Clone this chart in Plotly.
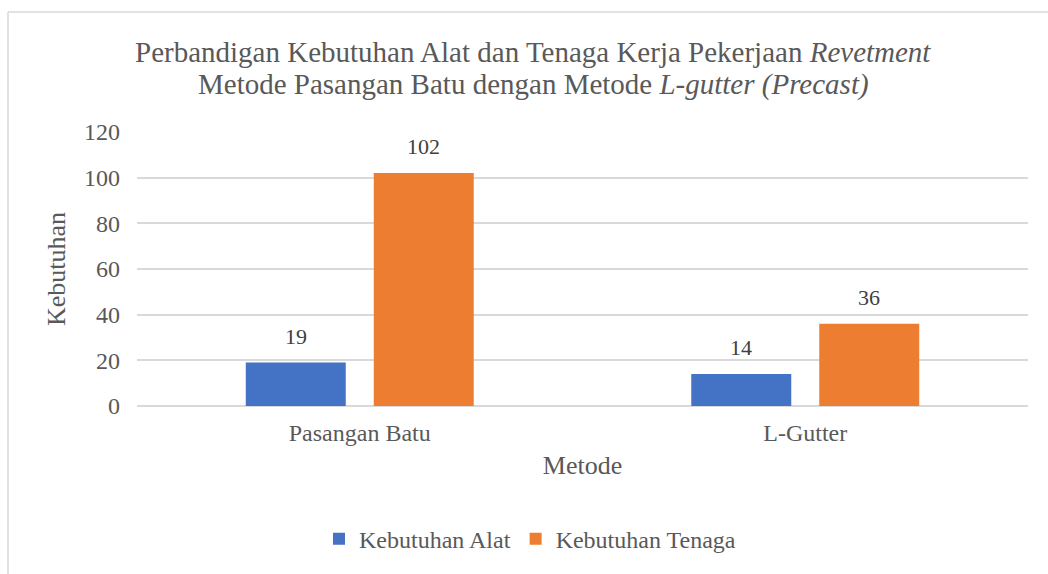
import plotly.graph_objects as go

# Categories and series
metode = ["Pasangan Batu", "L-Gutter"]
kebutuhan_alat = [19, 14]
kebutuhan_tenaga = [102, 36]
y_ticks = [0, 20, 40, 60, 80, 100, 120]

BLUE = "#4472C4"
ORANGE = "#ED7D31"
GRID = "#D9D9D9"
TXT = "#595959"
FONT = "Liberation Serif"

W, H = 1048, 574
L, R, T, B = 137, 20, 132, 166
pw, ph = W - L - R, H - T - B


def px_x(x):
    return (x - L) / pw


def px_y(y):
    return (H - B - y) / ph


fig = go.Figure()
fig.add_trace(go.Bar(name="Kebutuhan Alat", x=metode, y=kebutuhan_alat,
                     marker=dict(color=BLUE, line=dict(width=0))))
fig.add_trace(go.Bar(name="Kebutuhan Tenaga", x=metode, y=kebutuhan_tenaga,
                     marker=dict(color=ORANGE, line=dict(width=0))))

# value labels above each bar
annotations = []
for vals, shift in ((kebutuhan_alat, -64), (kebutuhan_tenaga, 64)):
    for cat, v in zip(metode, vals):
        annotations.append(dict(x=cat, y=v, xref="x", yref="y", text=str(v),
                                showarrow=False, xshift=shift, yshift=12,
                                yanchor="bottom",
                                font=dict(family=FONT, size=22, color="#404040")))

# two-line chart title (tight line spacing)
title_lines = [
    "Perbandigan Kebutuhan Alat dan Tenaga Kerja Pekerjaan <i>Revetment</i>",
    "Metode Pasangan Batu dengan Metode <i>L-gutter (Precast)</i>",
]
for line, yc in zip(title_lines, (51, 84)):
    annotations.append(dict(x=px_x(533), y=px_y(yc), xref="paper", yref="paper",
                            text=line, showarrow=False, xanchor="center",
                            yanchor="middle",
                            font=dict(family=FONT, size=29, color=TXT)))

# chart frame
shapes = [
    dict(type="line", xref="paper", yref="paper", x0=px_x(8), x1=px_x(W + 20),
         y0=px_y(11), y1=px_y(11), line=dict(color=GRID, width=1.5)),
    dict(type="line", xref="paper", yref="paper", x0=px_x(8), x1=px_x(8),
         y0=px_y(11), y1=px_y(H + 20), line=dict(color=GRID, width=1.5)),
]

fig.update_layout(
    width=W, height=H,
    margin=dict(l=L, r=R, t=T, b=B),
    paper_bgcolor="white", plot_bgcolor="white",
    barmode="group", bargap=0.4254, bargroupgap=0.21875,
    font=dict(family=FONT, color=TXT),
    xaxis=dict(
        title=dict(text="Metode", font=dict(family=FONT, size=26, color=TXT), standoff=10),
        tickfont=dict(family=FONT, size=24, color=TXT),
        showline=False, showgrid=False, ticks="", ticklabelstandoff=10),
    yaxis=dict(
        title=dict(text="Kebutuhan", font=dict(family=FONT, size=26, color=TXT), standoff=10),
        range=[0, 120], tickvals=y_ticks,
        tickfont=dict(family=FONT, size=24, color=TXT),
        showgrid=True, gridcolor=GRID, gridwidth=1.5,
        zeroline=True, zerolinecolor=GRID, zerolinewidth=1.5,
        showline=False, ticks="", ticklabelstandoff=16),
    legend=dict(orientation="h", x=px_x(530), xanchor="center",
                y=px_y(542), yanchor="middle",
                font=dict(family=FONT, size=24, color=TXT),
                traceorder="normal", itemwidth=30),
    annotations=annotations,
    shapes=shapes,
)

fig.write_html("out.html")
